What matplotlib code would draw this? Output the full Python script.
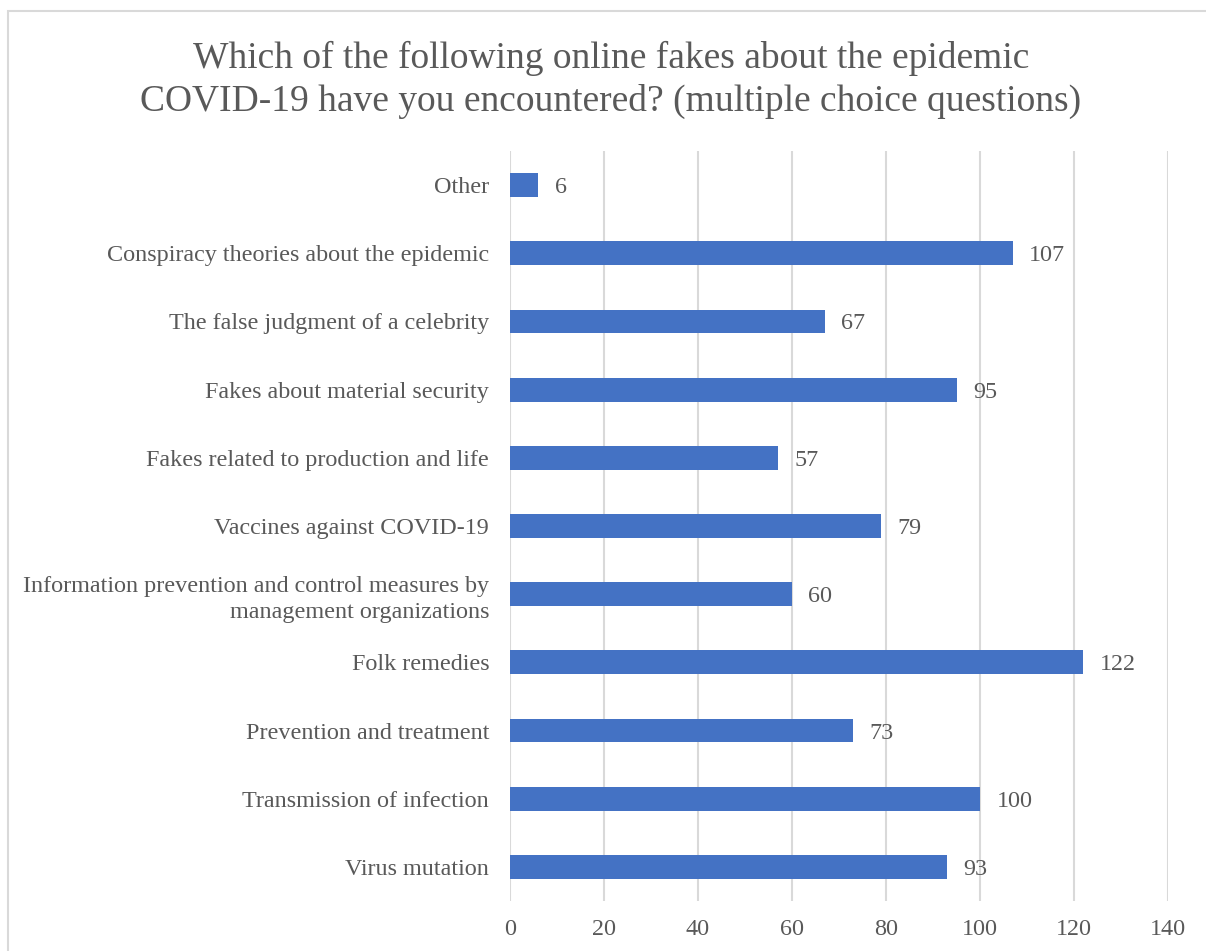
import matplotlib.pyplot as plt
from matplotlib.patches import Rectangle

plt.rcParams["font.family"] = ["Liberation Serif", "DejaVu Serif"]

categories = [
    "Virus mutation",
    "Transmission of infection",
    "Prevention and treatment",
    "Folk remedies",
    "Information prevention and control measures by\nmanagement organizations",
    "Vaccines against COVID-19",
    "Fakes related to production and life",
    "Fakes about material security",
    "The false judgment of a celebrity",
    "Conspiracy theories about the epidemic",
    "Other",
]
counts = [93, 100, 73, 122, 60, 79, 57, 95, 67, 107, 6]
x_ticks = [0, 20, 40, 60, 80, 100, 120, 140]

title = ("Which of the following online fakes about the epidemic\n"
         "COVID-19 have you encountered? (multiple choice questions)")

TEXT = "#595959"
BAR = "#4472C4"
GRID = "#D9D9D9"
FS = 17.4

fig = plt.figure(figsize=(12.06, 9.51), dpi=100)
# chart-area frame: left and top edges only fall inside the image
fig.patches.append(Rectangle((8 / 1206, -0.01), 1.05, 0.01 + (951 - 11) / 951,
                             transform=fig.transFigure, fill=False,
                             edgecolor=GRID, linewidth=1.5))

ax = fig.add_axes([510 / 1206, 50 / 951, 658 / 1206, 750 / 951])
ypos = range(len(categories))
ax.barh(ypos, counts, height=0.35, color=BAR, zorder=3)
for y, v in zip(ypos, counts):
    ax.text(v + 3.5, y, str(v), va="center_baseline", ha="left",
            fontsize=FS, color=TEXT)

ax.set_xlim(0, 140)
ax.set_ylim(-0.5, len(categories) - 0.5)
ax.set_xticks(x_ticks)
ax.set_xticklabels([str(t) for t in x_ticks])
ax.set_yticks(list(ypos))
ax.set_yticklabels(categories, linespacing=1.35)
ax.tick_params(axis="both", length=0, labelsize=FS, labelcolor=TEXT)
ax.tick_params(axis="x", pad=13)
ax.tick_params(axis="y", pad=15)
ax.grid(axis="x", color=GRID, linewidth=1.5, zorder=0)
for s in ax.spines.values():
    s.set_visible(False)

fig.text(611 / 1206, 1 - 80 / 951, title, ha="center", va="center",
         fontsize=27, color=TEXT, linespacing=1.26)

fig.savefig("out.png", dpi=100)
